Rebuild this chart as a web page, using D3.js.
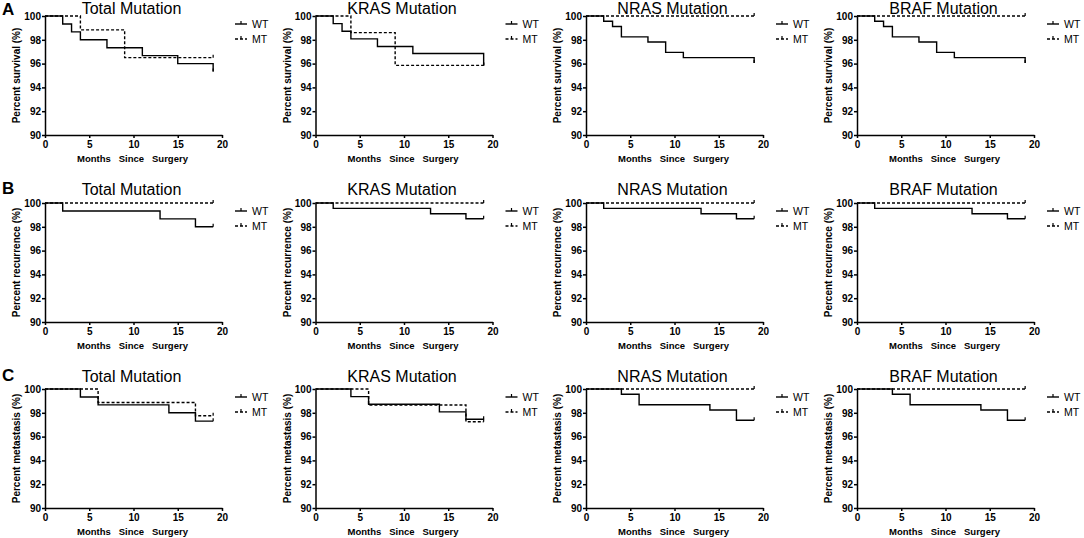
<!DOCTYPE html>
<html>
<head>
<meta charset="utf-8">
<script src="https://cdn.jsdelivr.net/npm/d3@7"></script>
<style>
  body { margin: 0; background: #fff; }
  svg { display: block; font-family: "Liberation Sans", Arial, sans-serif; }
  .axis path, .axis line { stroke: #000; stroke-width: 1.5; }
  .axis text { font-size: 10px; font-weight: bold; fill: #000; font-family: "Liberation Sans", Arial, sans-serif; }
</style>
</head>
<body>
<div id="chart"></div>
<script>
// column / row labels
const colTitles = ["Total Mutation", "KRAS Mutation", "NRAS Mutation", "BRAF Mutation"];
const rowLetters = ["A", "B", "C"];
const rowYLabels = ["Percent survival (%)", "Percent recurrence (%)", "Percent metastasis (%)"];
const seriesNames = ["WT", "MT"];
const xTicks = [0, 5, 10, 15, 20];
const yTicks = [90, 92, 94, 96, 98, 100];
const followUpEnd = 19;

// step points [month, percent] per column (Total, KRAS, NRAS, BRAF)
const survivalWT = [
  [[0, 100], [2, 99.33], [3, 98.67], [4, 98.0], [7, 97.33], [11, 96.67], [15, 96.0], [19, 95.33]],
  [[0, 100], [2, 99.36], [3, 98.72], [4, 98.08], [7, 97.44], [11, 96.85], [19, 95.85]],
  [[0, 100], [2, 99.56], [3, 99.12], [4, 98.25], [7, 97.81], [9, 96.94], [11, 96.5], [19, 96.06]],
  [[0, 100], [2, 99.56], [3, 99.12], [4, 98.25], [7, 97.81], [9, 96.94], [11, 96.5], [19, 96.06]]
];
const survivalMT = [
  [[0, 100], [4, 98.83], [9, 96.5]],
  [[0, 100], [4, 98.6], [9, 95.85]],
  [[0, 100]],
  [[0, 100]]
];
const recurrenceWT = [
  [[0, 100], [2, 99.33], [13, 98.67], [17, 98.0]],
  [[0, 100], [2, 99.55], [13, 99.1], [17, 98.68]],
  [[0, 100], [2, 99.55], [13, 99.1], [17, 98.68]],
  [[0, 100], [2, 99.55], [13, 99.1], [17, 98.68]]
];
const recurrenceMT = [
  [[0, 100]],
  [[0, 100]],
  [[0, 100]],
  [[0, 100]]
];
const metastasisWT = [
  [[0, 100], [4, 99.33], [6, 98.67], [14, 98.0], [17, 97.3]],
  [[0, 100], [4, 99.36], [6, 98.72], [14, 98.08], [17, 97.46]],
  [[0, 100], [4, 99.56], [6, 98.68], [14, 98.24], [17, 97.38]],
  [[0, 100], [4, 99.56], [6, 98.68], [14, 98.24], [17, 97.38]]
];
const metastasisMT = [
  [[0, 100], [6, 98.87], [17, 97.75]],
  [[0, 100], [6, 98.65], [17, 97.25]],
  [[0, 100]],
  [[0, 100]]
];

const rowWT = [survivalWT, recurrenceWT, metastasisWT];
const rowMT = [survivalMT, recurrenceMT, metastasisMT];

class KMPanel {

    constructor(opts) {
        Object.assign(this, opts);
        this.update();
    }

    update() {
        this._setScales();
        this.draw();
    }

    _setScales() {
        this.xScale = d3.scaleLinear()
            .domain([0, 20])
            .range([this.left, this.left + this.width]);

        this.yScale = d3.scaleLinear()
            .domain([90, 100])
            .range([this.top + this.height, this.top]);
    }

    draw() {
        let x = this.xScale, y = this.yScale;
        let g = this.svg.append("g").attr("class", "panel");

        // axes
        g.append("g")
            .classed("axis x-axis", true)
            .attr("transform", `translate(0,${this.top + this.height})`)
            .call(d3.axisBottom(x).tickValues(xTicks).tickSize(3).tickSizeOuter(0).tickPadding(3));

        g.append("g")
            .classed("axis y-axis", true)
            .attr("transform", `translate(${this.left},0)`)
            .call(d3.axisLeft(y).tickValues(yTicks).tickSize(3).tickSizeOuter(0).tickPadding(1));

        // step curves
        let line = d3.line()
            .curve(d3.curveStepAfter)
            .x(d => x(d[0]))
            .y(d => y(d[1]));

        let curves = [
            {pts: this.wt, dash: null},
            {pts: this.mt, dash: "3,2"}
        ];

        curves.forEach(c => {
            let last = c.pts[c.pts.length - 1];
            let pts = c.pts.concat([[followUpEnd, last[1]]]);

            g.append("path")
                .attr("d", line(pts))
                .attr("fill", "none")
                .attr("stroke", "#000")
                .attr("stroke-width", 1.4)
                .attr("stroke-dasharray", c.dash);

            // censor tick at end of follow-up
            g.append("line")
                .attr("x1", x(followUpEnd)).attr("x2", x(followUpEnd))
                .attr("y1", y(last[1])).attr("y2", y(last[1]) - 3)
                .attr("stroke", "#000")
                .attr("stroke-width", 1.2);
        });

        // titles
        g.append("text")
            .attr("x", x(10) - 2)
            .attr("y", this.titleY)
            .attr("text-anchor", "middle")
            .style("font-size", "16px")
            .text(this.title);

        g.append("text")
            .attr("transform", `translate(${this.left - 25},${this.top + this.height / 2}) rotate(-90)`)
            .attr("text-anchor", "middle")
            .style("font-size", "10px")
            .style("font-weight", "bold")
            .text(this.yLabel);

        g.append("text")
            .attr("x", x(10) - 1)
            .attr("y", this.top + this.height + 27)
            .attr("text-anchor", "middle")
            .style("font-size", "9.5px")
            .style("font-weight", "bold")
            .style("white-space", "pre")
            .attr("xml:space", "preserve")
            .text("Months   Since   Surgery");

        // legend
        let lx = this.left + this.width + 13;
        seriesNames.forEach((name, i) => {
            let ly = this.top + 8 + i * 15;
            g.append("line")
                .attr("x1", lx).attr("x2", lx + 12)
                .attr("y1", ly).attr("y2", ly)
                .attr("stroke", "#000")
                .attr("stroke-width", 1.4)
                .attr("stroke-dasharray", i === 0 ? null : "3,2");
            g.append("line")
                .attr("x1", lx + 6).attr("x2", lx + 6)
                .attr("y1", ly).attr("y2", ly - 3)
                .attr("stroke", "#000")
                .attr("stroke-width", 1.2);
            g.append("text")
                .attr("x", lx + 17)
                .attr("y", ly)
                .attr("dy", "0.35em")
                .style("font-size", "10.5px")
                .text(name);
        });
    }
}

// layout
const colLeft = [45, 315.5, 586, 857];
const rowTop = [16, 203, 389];
const titleY = [14, 195, 382];
const letterY = [15, 194, 381];

const svg = d3.select("#chart").append("svg")
    .attr("width", 1084)
    .attr("height", 538);

rowLetters.forEach((letter, r) => {
    svg.append("text")
        .attr("x", 2)
        .attr("y", letterY[r])
        .style("font-size", "17px")
        .style("font-weight", "bold")
        .text(letter);

    colTitles.forEach((title, c) => {
        new KMPanel({
            svg: svg,
            left: colLeft[c],
            top: rowTop[r],
            width: 177,
            height: 119,
            titleY: titleY[r],
            title: title,
            yLabel: rowYLabels[r],
            wt: rowWT[r][c],
            mt: rowMT[r][c]
        });
    });
});
</script>
</body>
</html>
